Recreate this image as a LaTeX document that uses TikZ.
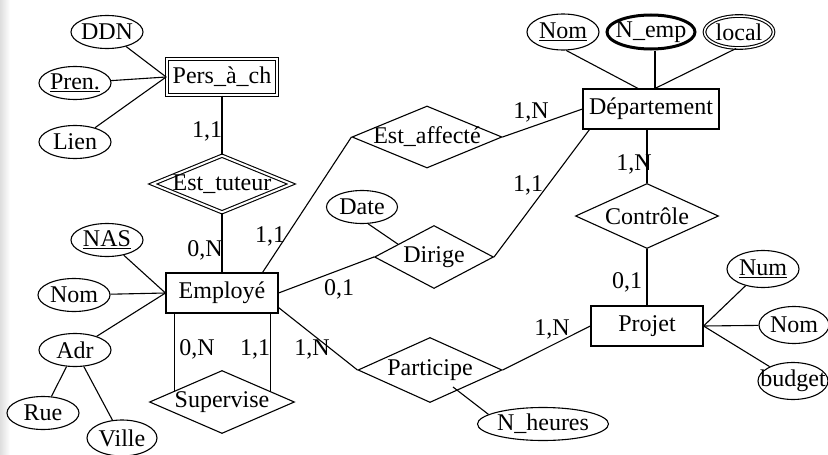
\documentclass[tikz,border=0pt]{standalone}
\usepackage{fontspec}
\setmainfont{Liberation Serif}
\usepackage{tikz}
\usetikzlibrary{shapes.geometric,calc}
\newcommand{\zw}[1]{\makebox[0pt]{#1}}

\begin{document}
\begin{tikzpicture}[x=1pt,y=-1pt,line width=1.1pt,
		font=\fontsize{24}{28}\selectfont,
		entity/.style={draw,rectangle,minimum width=112pt,minimum height=40pt,inner sep=6pt},
		rel/.style={draw,diamond,inner sep=0pt,minimum width=145pt,minimum height=63pt},
		attr/.style={draw,ellipse,inner sep=0pt,minimum width=72pt,minimum height=33pt},
		card/.style={inner sep=0pt}]
		\useasboundingbox (0,0) rectangle (828,455);
		\shade[left color=black!13,right color=white] (0,0) rectangle (10,455);
		% entites
		\node[entity,double,double distance=2pt,minimum width=109pt,minimum height=36pt] (pers) at (222,77) {Pers\_à\_ch};
		\node[entity] (employe) at (222,293) {Employé};
		\node[entity] (dept) at (651,109) {Département};
		\node[entity] (projet) at (647,326) {Projet};
		% relations
		\node[rel,double,double distance=2pt,minimum width=139pt,minimum height=57pt] (tuteur) at (222,184) {\zw{Est\_tuteur}};
		\node[rel] (supervise) at (222,402) {\zw{Supervise}};
		\node[rel,minimum width=150pt,minimum height=62pt] (affecte) at (427,137) {\zw{Est\_affecté}};
		\node[rel,minimum width=119pt] (dirige) at (434,257) {\zw{Dirige}};
		\node[rel,minimum width=144pt,minimum height=65pt] (participe) at (430,370) {\zw{Participe}};
		\node[rel,minimum width=143pt,minimum height=65pt] (controle) at (647,216) {\zw{Contrôle}};
		% attributs
		\node[attr] (ddn) at (107,32) {\zw{DDN}};
		\node[attr] (pren) at (75,83) {\zw{\underline{Pren.}}};
		\node[attr] (lien) at (75,142) {\zw{Lien}};
		\node[attr] (nas) at (107,240) {\zw{\underline{NAS}}};
		\node[attr] (nom) at (74,295) {\zw{Nom}};
		\node[attr] (adr) at (75,350) {\zw{Adr}};
		\node[attr] (rue) at (43,413) {\zw{Rue}};
		\node[attr,minimum width=70pt,minimum height=36pt] (ville) at (122,438) {\zw{Ville}};
		\node[attr,minimum width=71pt] (date) at (362,207) {\zw{Date}};
		\node[attr,minimum width=131pt,minimum height=33pt] (nheures) at (543,424) {\zw{N\_heures}};
		\node[attr,minimum height=36pt] (nomd) at (563,32) {\zw{\underline{Nom}}};
		\node[attr,line width=3pt,minimum width=88pt,minimum height=34pt] (nemp) at (651,32) {\zw{N\_emp}};
		\node[attr,double,double distance=1.5pt,minimum width=69pt,minimum height=32pt] (local) at (739,32) {\zw{local}};
		\node[attr,minimum height=37pt] (num) at (763,269) {\zw{\underline{Num}}};
		\node[attr,minimum width=70pt,minimum height=37pt] (nomp) at (794,325) {\zw{Nom}};
		\node[attr,minimum width=70pt,minimum height=37pt] (budget) at (793,381) {\zw{budget}};
		% liens
		\draw (ddn) -- (pers.west);
		\draw (pren) -- (pers.west);
		\draw (lien) -- (pers.west);
		\draw (pers) -- (tuteur);
		\draw (tuteur) -- (employe);
		\draw (nas) -- (employe.west);
		\draw (nom) -- (employe.west);
		\draw (adr) -- (employe.west);
		\draw (adr) -- (rue);
		\draw (adr) -- (ville);
		\coordinate (s1) at ($(supervise.west)!0.35!(supervise.north)$);
		\coordinate (s2) at ($(supervise.north)!0.67!(supervise.east)$);
		\draw (s1 |- employe.south) -- (s1);
		\draw (s2 |- employe.south) -- (s2);
		\draw ([xshift=-16pt]employe.north east) -- (affecte.west);
		\draw (affecte.east) -- (dept.west);
		\draw (employe.east) -- (dirige.west);
		\draw (dirige.east) -- ([xshift=7pt]dept.south west);
		\draw (date.290) -- ($(dirige.west)!0.4!(dirige.north)$);
		\draw ([yshift=6pt]employe.south east) -- (participe.west);
		\draw (participe.east) -- (projet.west);
		\coordinate (ph) at (453,387);
		\draw (nheures.170) -- (ph);
		\draw (nomd.-80) -- ([xshift=-13pt]dept.north);
		\draw ([xshift=4pt]nemp.south) -- ([xshift=4pt]dept.north);
		\draw (local.260) -- ([xshift=4pt]dept.north);
		\draw (controle.north |- dept.south) -- (controle.north);
		\draw (controle) -- (projet);
		\draw (projet.east) -- (num);
		\draw (projet.east) -- (nomp);
		\draw (projet.east) -- (budget);
		% cardinalites
		\node[card,at={(207,131)}] (c1) {1,1};
		\node[card,at={(205,250)}] (c2) {0,N};
		\node[card,at={(270,236)}] (c3) {1,1};
		\node[card,at={(197,349)}] (c4) {0,N};
		\node[card,at={(255,349)}] (c5) {1,1};
		\node[card,at={(312,349)}] (c6) {1,N};
		\node[card,at={(339,289)}] (c7) {0,1};
		\node[card,at={(552,329)}] (c8) {1,N};
		\node[card,at={(531,112)}] (c9) {1,N};
		\node[card,at={(528,185)}] (c10) {1,1};
		\node[card,at={(634,164)}] (c11) {1,N};
		\node[card,at={(627,282)}] (c12) {0,1};
\end{tikzpicture}
\end{document}
